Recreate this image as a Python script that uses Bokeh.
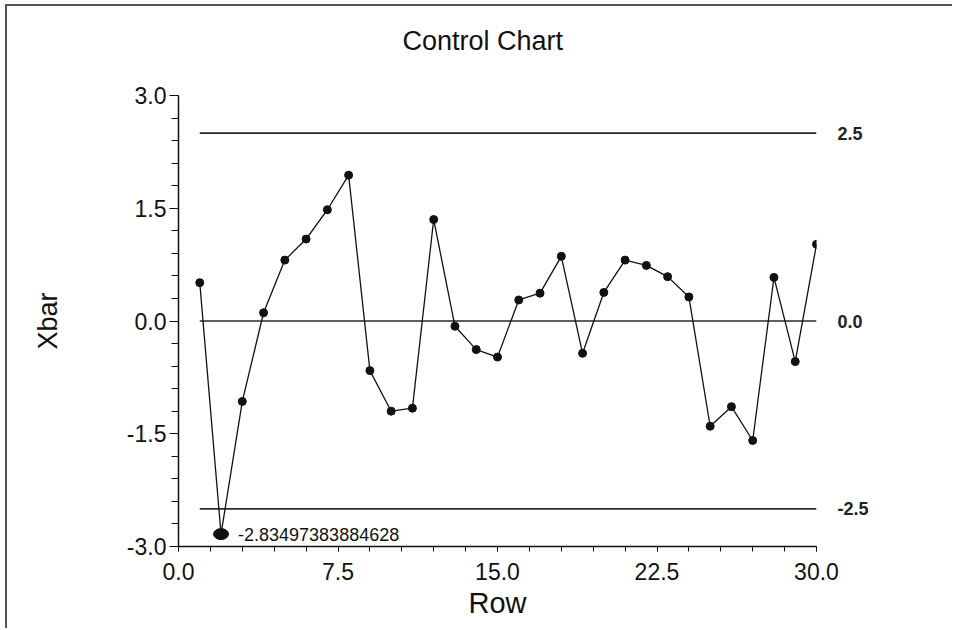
from bokeh.plotting import figure
from bokeh.models import (LinearAxis, SingleIntervalTicker, FixedTicker,
                          PrintfTickFormatter, Range1d, ColumnDataSource)
from bokeh.core.properties import value
from bokeh.embed import file_html
from bokeh.resources import INLINE

# ---- data ----
rows = [1, 2, 3, 4, 5, 6, 7, 8, 9, 10, 11, 12, 13, 14, 15,
        16, 17, 18, 19, 20, 21, 22, 23, 24, 25, 26, 27, 28, 29, 30]
xbar = [0.51, -2.83497383884628, -1.07, 0.11, 0.81, 1.09, 1.48, 1.94, -0.66, -1.20,
        -1.16, 1.35, -0.07, -0.38, -0.48, 0.28, 0.37, 0.86, -0.43, 0.38,
        0.81, 0.74, 0.59, 0.32, -1.40, -1.14, -1.59, 0.58, -0.54, 1.02]
ucl = 2.5
center = 0.0
lcl = -2.5
limit_labels = [lcl, center, ucl]
x_ticks = [0.0, 7.5, 15.0, 22.5, 30.0]
y_ticks = [-3.0, -1.5, 0.0, 1.5, 3.0]

FONT = "Liberation Sans"
INK = "#111111"

p = figure(width=947, height=624, output_backend="svg", toolbar_location=None,
           x_range=Range1d(x_ticks[0], x_ticks[-1]), y_range=Range1d(y_ticks[0], y_ticks[-1]),
           min_border_left=171, min_border_right=138, min_border_top=89, min_border_bottom=84,
           title="Control Chart")
p.styles = {"margin-left": "5px", "margin-top": "4px",
            "border-top": "2px solid #555555", "border-left": "2px solid #555555"}
p.background_fill_color = "white"
p.border_fill_color = "white"
p.outline_line_color = None
p.grid.visible = False

p.title.align = "left"
p.title.offset = 224
p.title.standoff = 0
p.title.padding = dict(left=0, right=0, top=0, bottom=40)
p.title.text_font = FONT
p.title.text_font_size = "27px"
p.title.text_font_style = "normal"
p.title.text_color = INK

# x axis
xa = p.xaxis[0]
xa.ticker = SingleIntervalTicker(interval=7.5, num_minor_ticks=5)
xa.formatter = PrintfTickFormatter(format="%.1f")
xa.axis_label = "Row"
xa.axis_label_text_font = FONT
xa.axis_label_text_font_size = "29px"
xa.axis_label_text_font_style = "normal"
xa.axis_label_text_color = INK
xa.axis_label_standoff = 4
xa.major_label_text_font = FONT
xa.major_label_text_font_size = "23px"
xa.major_label_text_color = INK
xa.major_label_standoff = 11
xa.major_tick_in = 0
xa.major_tick_out = 5
xa.minor_tick_in = 0
xa.minor_tick_out = 5
xa.axis_line_width = 1.5
xa.axis_line_color = INK
xa.major_tick_line_color = INK
xa.minor_tick_line_color = INK

# y axis
ya = p.yaxis[0]
ya.ticker = SingleIntervalTicker(interval=1.5, num_minor_ticks=5)
ya.formatter = PrintfTickFormatter(format="%.1f")
ya.axis_label = "Xbar"
ya.axis_label_text_font = FONT
ya.axis_label_text_font_size = "27px"
ya.axis_label_text_font_style = "normal"
ya.axis_label_text_color = INK
ya.axis_label_standoff = 61
ya.major_label_text_font = FONT
ya.major_label_text_font_size = "23px"
ya.major_label_text_color = INK
ya.major_label_standoff = 3
ya.major_tick_in = 0
ya.major_tick_out = 9
ya.minor_tick_in = 0
ya.minor_tick_out = 7
ya.axis_line_width = 1.5
ya.axis_line_color = INK
ya.major_tick_line_color = INK
ya.minor_tick_line_color = INK

# right-side limit labels
ra = LinearAxis(ticker=FixedTicker(ticks=limit_labels),
                formatter=PrintfTickFormatter(format="%.1f"))
ra.axis_line_color = None
ra.major_tick_line_color = None
ra.minor_tick_line_color = None
ra.major_label_standoff = 15
ra.major_label_text_font = FONT
ra.major_label_text_font_size = "18px"
ra.major_label_text_font_style = "bold"
ra.major_label_text_color = "#222222"
p.add_layout(ra, "right")

# control limit lines
lims = [ucl, center, lcl]
p.segment(x0=[rows[0]] * 3, x1=[rows[-1]] * 3, y0=lims, y1=lims,
          line_color="#2a2a2a", line_width=1.6)

# data line and points
src = ColumnDataSource(dict(x=rows, y=xbar))
p.line("x", "y", source=src, line_color=INK, line_width=1.3)
p.scatter("x", "y", source=src, size=8, fill_color=INK, line_color=INK)

# out-of-control points
ox = [r for r, v in zip(rows, xbar) if v > ucl or v < lcl]
oy = [v for v in xbar if v > ucl or v < lcl]
p.ellipse(x=ox, y=oy, width=15, height=11, width_units="screen", height_units="screen",
          fill_color=INK, line_color=INK)
p.text(x=ox, y=oy, text=[repr(v) for v in oy], x_offset=17,
       text_baseline="middle", text_align="left",
       text_font=value(FONT), text_font_size="18px", text_color=INK)

open("out.html", "w").write(file_html(p, INLINE))
